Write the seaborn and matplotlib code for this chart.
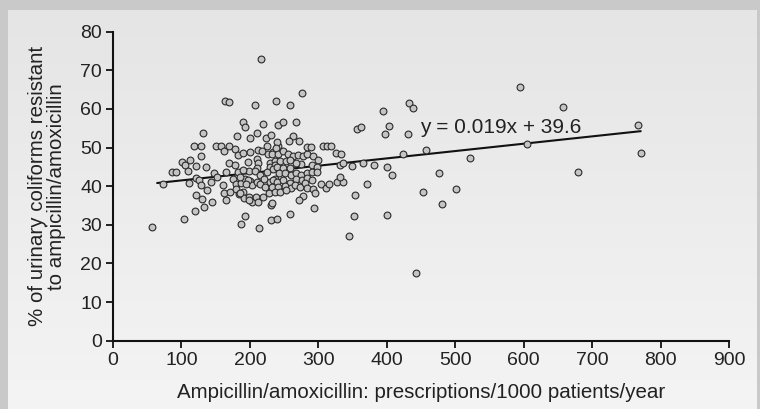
import numpy as np
import matplotlib
matplotlib.use("Agg")
import matplotlib.pyplot as plt
import seaborn as sns

# prescriptions per 1000 patients per year vs % resistant
presc = [57.5, 72.6, 86.7, 92.5, 100.4, 105.7, 109.6, 111, 112.5, 104.2, 118.4, 128.1,
         120.8, 128.6, 132, 120.8, 125.7, 128.6, 120.8, 130.5, 133.5, 119.8,
         136.3, 136.9, 143.7, 144.2, 148, 151.5, 150.5, 157.4, 162.7, 169.0, 163.6, 169.5,
         161.2, 162.7, 165.1, 165.1, 170, 178.3, 171, 175.8, 179.3, 179.3, 183.1, 183.7,
         178.3, 182.2, 189.5, 180.7, 189.5, 186.6, 190.4, 191.4, 186.6, 192.4,
         193.3, 199.7, 207.5, 210.8, 216.2, 219.2, 223.6, 230.4, 237.7, 200.6, 212.3, 217.7,
         224.6, 226, 233.8, 240.6, 196.8, 210.8, 211.3, 209.9, 229.8, 229.8, 237.1, 237.1,
         199.1, 207.5, 215.2, 224.6, 234.2, 193.3, 200.2, 203.1, 209.9, 215.2, 220.2, 222.5,
         229.8, 236.7, 199.1, 202.6, 208.9, 212.3, 219.6, 227.9, 230.9, 213.8, 230.4, 240,
         190.4, 185.6, 197.6, 194.3, 185.6, 198.3,
         240.6, 248.4, 258.6, 267.8, 276.6, 263, 239.2, 257.6, 271.3, 238.2, 231.9, 241.5,
         248.8, 256.1, 263.4, 270.8, 278, 283.9, 291.8, 300, 290.3, 297.6, 274.3, 267.4,
         244, 252.8, 258.6, 239.2, 248.8, 258.6, 243, 251.3, 259.6, 267.4, 274.7, 283,
         290.3, 297.6, 233.3, 240.1, 248.8, 258.6, 267.4, 275.7, 283, 290.3, 231.9, 241.5,
         251.3, 259.6, 265.9, 273.2, 280.5, 283.9, 291.8, 295.1, 236.7, 244, 252.8, 231.9,
         278, 272.2, 294.1, 258.6, 283, 289.7,
         306.4, 313.2, 318.5, 325.4, 332.7, 303.4, 311.2, 316.1, 327.8, 335.6, 331.7, 331.7,
         335.6, 349.7, 364.8, 356, 362.8, 344.8, 371.5, 353.6, 352.1,
         381.8, 399.9, 407.2, 394.5, 403.3, 397.9, 400.4, 423.7, 431.5, 432, 438.8, 442.7,
         452.6, 457.3, 476.9, 481.2, 501.6, 521.2, 595.2, 605.4, 658, 679, 767.1, 771]
resist = [29.4, 40.6, 43.8, 43.8, 46.2, 45.4, 44.0, 40.9, 46.8, 31.6, 50.3, 50.3,
          45.3, 47.8, 53.9, 42.1, 41.5, 40.3, 37.7, 36.8, 34.5, 33.5,
          44.9, 38.9, 41.0, 35.9, 43.4, 42.5, 50.3, 50.4, 49.2, 50.4, 62.0, 61.9,
          40.3, 38.2, 36.3, 43.6, 46.1, 45.5, 38.4, 41.8, 40.6, 39.2, 43.6, 38.0,
          49.7, 48.2, 48.5, 53.0, 56.7, 40.9, 38.4, 36.9, 30.2, 32.3,
          55.2, 52.4, 61.1, 53.7, 72.9, 56.1, 52.4, 53.2, 62.0, 48.8, 49.4, 49.2,
          50.3, 48.4, 48.9, 50.5, 46.2, 47.1, 46.0, 44.8, 46.1, 44.9, 46.6, 45.4,
          44.0, 44.0, 42.9, 43.7, 44.4, 41.8, 41.3, 40.2, 41.2, 40.6, 41.8, 39.9,
          41.0, 41.8, 37.3, 36.0, 37.1, 35.9, 37.1, 38.2, 35.2, 29.2, 31.2, 31.6,
          44.2, 42.5, 41.6, 40.6, 38.2, 36.5,
          55.9, 56.6, 61.0, 56.6, 64.1, 53.1, 51.4, 51.6, 51.6, 49.8, 48.4, 48.4,
          49.0, 48.4, 47.9, 48.1, 47.9, 48.4, 47.7, 46.8, 45.5, 45.1, 45.8, 46.0,
          46.6, 46.4, 46.8, 45.1, 44.7, 44.7, 43.4, 43.4, 42.9, 43.4, 42.9, 43.4,
          43.8, 43.8, 41.6, 41.2, 41.5, 40.9, 41.8, 41.5, 42.1, 41.5, 39.9, 39.9,
          40.1, 39.5, 40.3, 39.9, 40.8, 39.5, 39.2, 38.3, 38.6, 38.6, 38.9, 35.6,
          37.4, 36.3, 34.3, 32.8, 50.1, 50.1,
          50.4, 50.4, 50.4, 48.7, 48.4, 40.5, 39.5, 40.5, 41.2, 41.2, 42.5, 45.5,
          46.0, 45.3, 46.0, 54.8, 55.3, 27.2, 40.6, 37.7, 32.4,
          45.4, 45.1, 42.8, 59.4, 55.7, 53.4, 32.5, 48.4, 53.5, 61.6, 60.3, 17.5,
          38.4, 49.4, 43.4, 35.5, 39.2, 47.4, 65.8, 50.9, 60.4, 43.7, 55.8, 48.7]

slope = 0.019
intercept = 39.6
x_ticks = [0, 100, 200, 300, 400, 500, 600, 700, 800, 900]
y_ticks = [0, 10, 20, 30, 40, 50, 60, 70, 80]

sns.set_style("white")
plt.rcParams['font.family'] = ['Liberation Sans', 'DejaVu Sans']

fig = plt.figure(figsize=(7.6, 4.09), dpi=100)
fig.patch.set_facecolor('#c9c9c9')

# panel with a soft vertical gradient
bg = fig.add_axes([8 / 760, 0, 749 / 760, 399 / 409], zorder=0)
grad = np.linspace(0, 1, 256).reshape(-1, 1)
bg.imshow(grad, aspect='auto', cmap=matplotlib.colors.LinearSegmentedColormap.from_list(
    'g', ['#e5e5e5', '#f4f4f4']), extent=[0, 1, 0, 1], origin='upper')
bg.set_axis_off()

ax = fig.add_axes([113 / 760, 68.3 / 409, 616 / 760, 309 / 409], zorder=1)
ax.patch.set_alpha(0)

sns.scatterplot(x=presc, y=resist, ax=ax, s=24, color='#c4c4c4',
                edgecolor='#2a2a2a', linewidth=0.8, zorder=3)

line_x = np.array([min(presc) + 7, max(presc)])
sns.lineplot(x=line_x, y=slope * line_x + intercept, ax=ax, color='#111111',
             linewidth=1.5, zorder=2)
ax.text(448, 53.9, 'y = %.3fx + %.1f' % (slope, intercept), fontsize=15,
        color='#222222', va='baseline', ha='left')

ax.set_xlim(0, 900)
ax.set_ylim(0, 80)
ax.set_xticks(x_ticks)
ax.set_yticks(y_ticks)
for s in ['top', 'right']:
    ax.spines[s].set_visible(False)
for s in ['left', 'bottom']:
    ax.spines[s].set_linewidth(1.5)
    ax.spines[s].set_color('#111111')
ax.tick_params(axis='both', direction='out', length=5, width=1.3, colors='#111111',
               labelsize=14, labelcolor='#222222', left=True, bottom=True, pad=3)
ax.set_xlabel('Ampicillin/amoxicillin: prescriptions/1000 patients/year',
              fontsize=14.8, color='#222222', labelpad=10)
ax.set_ylabel('% of urinary coliforms resistant\nto ampicillin/amoxicillin',
              fontsize=14.8, color='#222222', labelpad=10, linespacing=1.0)

fig.savefig('out.png', dpi=100, facecolor=fig.get_facecolor())
